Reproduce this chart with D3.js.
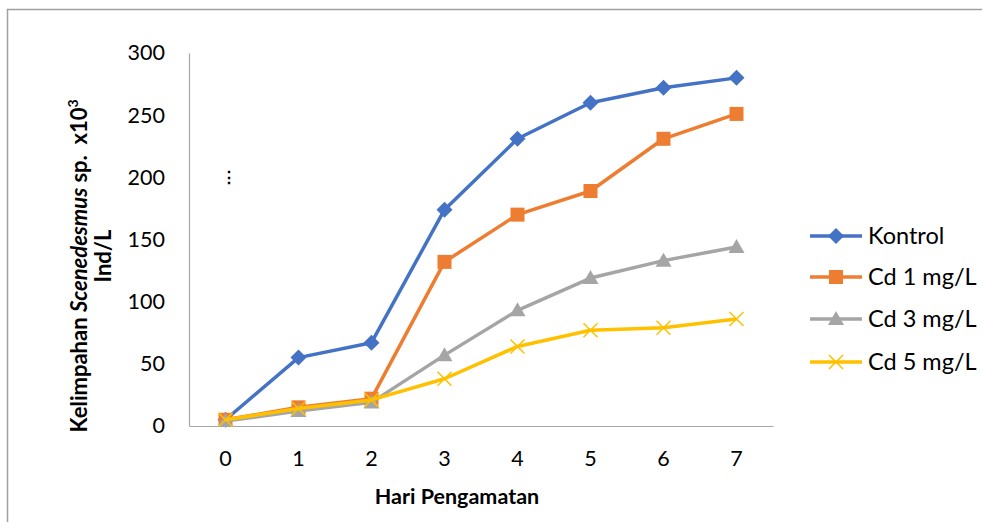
<!DOCTYPE html>
<html>
<head>
<meta charset="utf-8">
<script src="https://cdn.jsdelivr.net/npm/d3@7/dist/d3.min.js"></script>
<style>
  html, body { margin: 0; padding: 0; background: #fff; }
  svg { display: block; font-family: Lato, "Open Sans", sans-serif; }
</style>
</head>
<body>
<svg id="chart" width="983" height="522"></svg>
<script>
// Days of observation
const days = [0, 1, 2, 3, 4, 5, 6, 7];
// Abundance of Scenedesmus sp. (x10^3 Ind/L) per treatment
const kontrol = [5, 55, 67, 174, 231, 260, 272, 280];
const cd1 = [5, 15, 22, 132, 170, 189, 231, 251];
const cd3 = [4, 12, 19, 57, 93, 119, 133, 144];
const cd5 = [5, 14, 21, 38, 64, 77, 79, 86];
const seriesNames = ["Kontrol", "Cd 1 mg/L", "Cd 3 mg/L", "Cd 5 mg/L"];
const yTicks = [0, 50, 100, 150, 200, 250, 300];

const series = [
  { name: seriesNames[0], values: kontrol, color: "#4472C4", marker: "diamond" },
  { name: seriesNames[1], values: cd1, color: "#ED7D31", marker: "square" },
  { name: seriesNames[2], values: cd3, color: "#A5A5A5", marker: "triangle" },
  { name: seriesNames[3], values: cd5, color: "#FFC000", marker: "cross" }
];

const svg = d3.select("#chart");

// Outer frame
svg.append("path")
  .attr("d", "M7.5,522 L7.5,9.5 L982,9.5")
  .attr("fill", "none").attr("stroke", "#a0a0a0").attr("stroke-width", 1.5);

const plot = { left: 189, right: 773, top: 53, bottom: 426 };

const x = d3.scaleBand().domain(days).range([plot.left, plot.right]);
const xc = d => x(d) + x.bandwidth() / 2;
const y = d3.scaleLinear().domain([0, 300]).range([plot.bottom, plot.top]);

// Axes
const yAxis = d3.axisLeft(y).tickValues(yTicks).tickSize(0).tickPadding(24);
const gy = svg.append("g").attr("transform", `translate(${plot.left},0)`).call(yAxis);
gy.select(".domain").attr("stroke", "#a6a6a6").attr("stroke-width", 1.2);
gy.selectAll("text").attr("font-size", 21.5).attr("fill", "#000")
  .attr("font-family", "Lato, 'Open Sans', sans-serif");

const xAxis = d3.axisBottom(x).tickSize(0).tickPadding(25);
const gx = svg.append("g").attr("transform", `translate(0,${plot.bottom})`).call(xAxis);
gx.select(".domain").attr("stroke", "#a6a6a6").attr("stroke-width", 1.2);
gx.selectAll("text").attr("font-size", 21.5).attr("fill", "#000")
  .attr("font-family", "Lato, 'Open Sans', sans-serif");

// Axis titles
svg.append("text")
  .attr("x", 457).attr("y", 504)
  .attr("text-anchor", "middle")
  .attr("font-size", 21.5).attr("font-weight", "bold")
  .text("Hari Pengamatan");

const yt = svg.append("text")
  .attr("transform", "translate(87,266) rotate(-90)")
  .attr("text-anchor", "middle")
  .attr("font-size", 22).attr("font-weight", "bold");
yt.append("tspan").text("Kelimpahan ");
yt.append("tspan").attr("font-style", "italic").text("Scenedesmus");
yt.append("tspan").text(" sp.\u00a0\u00a0x10");
yt.append("tspan").attr("font-size", 14).attr("dy", -9).text("3");
svg.append("text")
  .attr("transform", "translate(111,256) rotate(-90)")
  .attr("text-anchor", "middle")
  .attr("font-size", 22).attr("font-weight", "bold")
  .text("Ind/L");

// Stray glyph inside the plot area
svg.append("text")
  .attr("x", 229).attr("y", 183)
  .attr("text-anchor", "middle")
  .attr("font-size", 16).attr("font-weight", "bold")
  .text("\u22ee");

// Marker drawing
function drawMarker(g, type, color) {
  if (type === "diamond") {
    g.append("path").attr("d", "M0,-8 L8,0 L0,8 L-8,0 Z").attr("fill", color);
  } else if (type === "square") {
    g.append("rect").attr("x", -7).attr("y", -7).attr("width", 14).attr("height", 14).attr("fill", color);
  } else if (type === "triangle") {
    g.append("path").attr("d", "M0,-8 L8,6 L-8,6 Z").attr("fill", color);
  } else if (type === "cross") {
    g.append("path").attr("d", "M-7,-7 L7,7 M-7,7 L7,-7")
      .attr("stroke", color).attr("stroke-width", 1.5).attr("fill", "none");
  }
}

const line = d3.line().x((d, i) => xc(days[i])).y(d => y(d));

series.forEach(s => {
  svg.append("path")
    .datum(s.values)
    .attr("d", line)
    .attr("fill", "none")
    .attr("stroke", s.color)
    .attr("stroke-width", 3.5)
    .attr("stroke-linejoin", "round");
  s.values.forEach((v, i) => {
    const g = svg.append("g").attr("transform", `translate(${xc(days[i])},${y(v)})`);
    drawMarker(g, s.marker, s.color);
  });
});

// Legend
const legendY = [236, 277, 319, 362];
series.forEach((s, i) => {
  const g = svg.append("g").attr("transform", `translate(0,${legendY[i]})`);
  g.append("line").attr("x1", 810).attr("x2", 862).attr("y1", 0).attr("y2", 0)
    .attr("stroke", s.color).attr("stroke-width", 3.5);
  const m = g.append("g").attr("transform", "translate(836,0)");
  drawMarker(m, s.marker, s.color);
  g.append("text").attr("x", 868).attr("y", 0).attr("dy", "0.35em")
    .attr("font-size", 23.5).text(s.name);
});
</script>
</body>
</html>
